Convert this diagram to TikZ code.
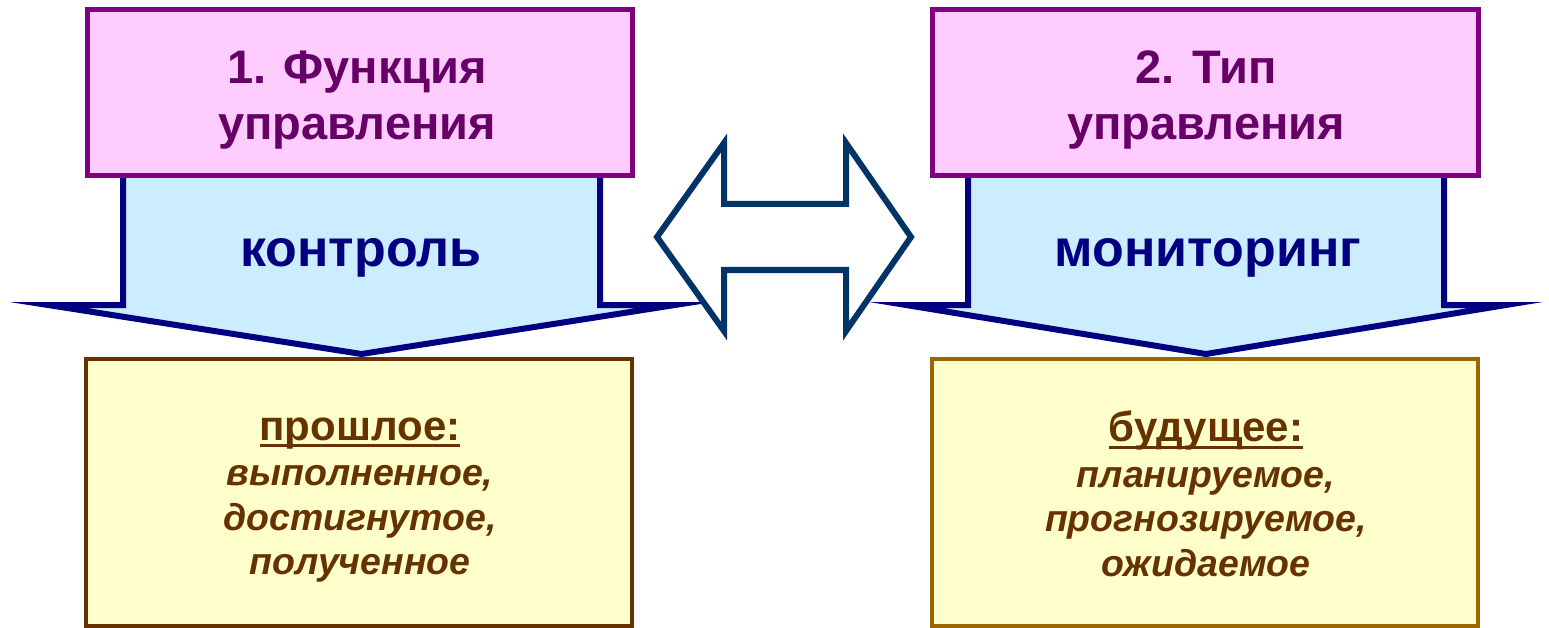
\documentclass[tikz,border=0pt]{standalone}
\usepackage{fontspec}
\setmainfont{Liberation Sans}
\definecolor{topfill}{HTML}{FFCCFF}
\definecolor{topdraw}{HTML}{800080}
\definecolor{toptext}{HTML}{660066}
\definecolor{shaftfill}{HTML}{CCECFF}
\definecolor{shaftdraw}{HTML}{000080}
\definecolor{botfill}{HTML}{FFFFCC}
\definecolor{botdrawA}{HTML}{663300}
\definecolor{botdrawB}{HTML}{996600}
\definecolor{bottext}{HTML}{663300}
\definecolor{dblarrow}{HTML}{003366}
\newcommand\myul[1]{\setbox0\hbox{#1}\rlap{\rule[-0.17em]{\wd0}{0.07em}}\box0}
\tikzset{
  topbox/.style={fill=topfill,draw=topdraw,line width=5pt},
  shaft/.style={fill=shaftfill,draw=shaftdraw,line width=6pt,miter limit=30},
  botbox/.style={fill=botfill,line width=4.5pt},
  titletext/.style={text=toptext,font=\bfseries\fontsize{47}{56}\selectfont,align=center},
  midtext/.style={text=shaftdraw,font=\bfseries\fontsize{52}{60}\selectfont},
  bottxt/.style={text=bottext,align=center,font=\bfseries\fontsize{37.5}{44.5}\selectfont},
  dbl/.style={fill=white,draw=dblarrow,line width=6pt,miter limit=30}
}
\begin{document}
\begin{tikzpicture}[x=1pt,y=-1pt]
\useasboundingbox (0,0) rectangle (1549,628);
% down arrows
\draw[shaft] (123,170) -- (123,305) -- (48,305) -- (361.5,354) -- (675,305) -- (600,305) -- (600,170) -- cycle;
\draw[shaft] (968,170) -- (968,305) -- (906,305) -- (1206,354) -- (1506,305) -- (1444,305) -- (1444,170) -- cycle;
% top boxes
\node[topbox,minimum width=545pt,minimum height=166pt,inner sep=0pt] (tA) at (359.5,93) {};
\node[topbox,minimum width=546pt,minimum height=166pt,inner sep=0pt] (tB) at (1205,93) {};
% bottom boxes
\node[botbox,draw=botdrawA,minimum width=546pt,minimum height=267pt,inner sep=0pt] (bA) at (359,492.5) {};
\node[botbox,draw=botdrawB,minimum width=546pt,minimum height=267pt,inner sep=0pt] (bB) at (1205,492.5) {};
% double arrow
\draw[dbl] (657,237) -- (724,143) -- (724,204) -- (846,204) -- (846,143) -- (911,237) -- (846,331) -- (846,270) -- (724,270) -- (724,331) -- cycle;
% texts
\node[titletext] (ttA) at (357,100) {1. Функция\\управления};
\node[titletext] (ttB) at (1206,100) {2. Тип\\управления};
\node[midtext] (mA) at (361,258) {контроль};
\node[midtext] (mB) at (1208,258) {мониторинг};
\node[bottxt] (xA) at (360,500) {\fontsize{42}{48}\selectfont\myul{прошлое:}\\[1pt]\itshape выполненное,\\\itshape достигнутое,\\\itshape полученное};
\node[bottxt] (xB) at (1206,494) {\fontsize{42}{48}\selectfont\myul{будущее:}\\[1pt]\itshape планируемое,\\\itshape прогнозируемое,\\\itshape ожидаемое};
\end{tikzpicture}
\end{document}
